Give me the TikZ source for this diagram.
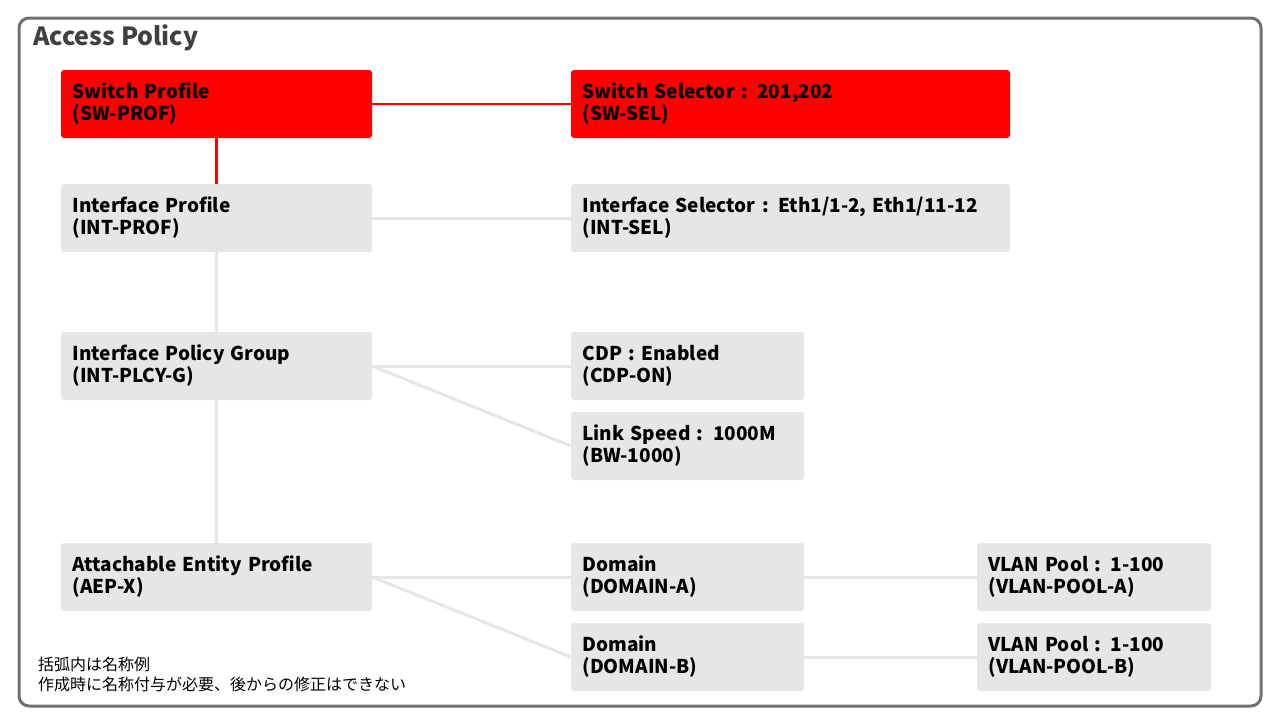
\documentclass[tikz,border=0pt]{standalone}
\usepackage{fontspec}
\setmainfont{Noto Sans CJK JP}
\usepackage{xcolor}
\usetikzlibrary{positioning}
\definecolor{acired}{HTML}{FF0000}
\definecolor{boxgray}{HTML}{E6E6E6}
\definecolor{framegray}{HTML}{707070}
\definecolor{titlegray}{HTML}{404040}

\begin{document}
\begin{tikzpicture}[x=1pt, y=1pt, node distance=114pt,
    policybox/.style={rectangle, rounded corners=3pt, text width=#1, inner xsep=11.5pt, minimum height=68pt, align=left, font=\bfseries\fontsize{19}{22}\selectfont},
    redbox/.style={policybox=#1, fill=acired},
    graybox/.style={policybox=#1, fill=boxgray},
    redlink/.style={draw=acired, line width=2.5pt},
    graylink/.style={draw=boxgray, line width=3pt}]
    \useasboundingbox (0,0) rectangle (1280,-720);

    % Frame and title
    \draw[framegray, line width=3pt, rounded corners=10pt] (19,-18) rectangle (1261,-706);
    \node (title) [anchor=west, inner sep=0pt, text=titlegray, font=\bfseries\fontsize{25}{28}\selectfont] at (33,-38) {Access Policy};

    % Nodes
    \node (swprof) [redbox=288pt] at (216.5,-104) {Switch Profile\\(SW-PROF)};
    \node (swsel) [redbox=416pt, right of=swprof, node distance=574pt] {Switch Selector : 201,202\\(SW-SEL)};
    \node (intprof) [graybox=288pt, below of=swprof] {Interface Profile\\(INT-PROF)};
    \node (intsel) [graybox=416pt, below of=swsel] {Interface Selector : Eth1/1-2, Eth1/11-12\\(INT-SEL)};
    \node (plcyg) [graybox=288pt, below of=intprof, node distance=148pt] {Interface Policy Group\\(INT-PLCY-G)};
    \node (cdp) [graybox=210pt, right of=plcyg, node distance=471pt] {CDP : Enabled\\(CDP-ON)};
    \node (speed) [graybox=210pt, below of=cdp, node distance=80pt] {Link Speed : 1000M\\(BW-1000)};
    \node (aep) [graybox=288pt, below of=plcyg, node distance=211pt] {Attachable Entity Profile\\(AEP-X)};
    \node (doma) [graybox=210pt, right of=aep, node distance=471pt] {Domain\\(DOMAIN-A)};
    \node (domb) [graybox=210pt, below of=doma, node distance=80pt] {Domain\\(DOMAIN-B)};
    \node (vlana) [graybox=211pt, right of=doma, node distance=406.5pt] {VLAN Pool : 1-100\\(VLAN-POOL-A)};
    \node (vlanb) [graybox=211pt, right of=domb, node distance=406.5pt] {VLAN Pool : 1-100\\(VLAN-POOL-B)};
    \node (note) [anchor=north west, inner sep=0pt, align=left, font=\fontsize{16}{20}\selectfont] at (38,-657) {括弧内は名称例\\作成時に名称付与が必要、後からの修正はできない};

    % Edges
    \draw[redlink] (swprof) -- (swsel);
    \draw[redlink] (swprof) -- (intprof);
    \draw[graylink] (intprof) -- (intsel);
    \draw[graylink] (intprof) -- (plcyg);
    \draw[graylink] (plcyg) -- (aep);
    \draw[graylink] (plcyg.east) -- (cdp.west);
    \draw[graylink] (plcyg.east) -- (speed.west);
    \draw[graylink] (aep.east) -- (doma.west);
    \draw[graylink] (aep.east) -- (domb.west);
    \draw[graylink] (doma) -- (vlana);
    \draw[graylink] (domb) -- (vlanb);
\end{tikzpicture}
\end{document}
